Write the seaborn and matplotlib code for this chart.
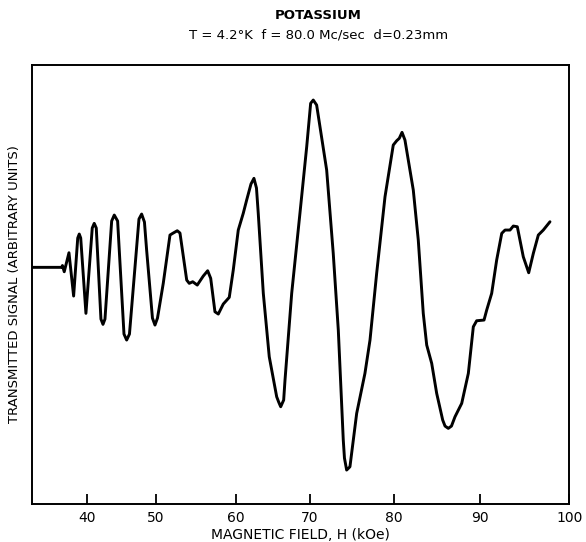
import numpy as np
import pandas as pd
import matplotlib
matplotlib.use("Agg")
import matplotlib.pyplot as plt
import seaborn as sns

# traced curve: magnetic field (kOe) and transmitted signal (arbitrary units)
field_koe = [
    32.0, 36.32, 36.43, 36.69, 37.37, 38.04, 38.63, 38.85, 39.06, 39.81,
    40.73, 41.02, 41.32, 42.00, 42.30, 42.59, 43.57, 43.95, 44.44, 45.37,
    45.76, 46.17, 47.56, 47.95, 48.36, 48.68, 49.53, 49.90, 50.23, 50.95,
    51.79, 52.13, 52.70, 53.04, 53.88, 54.20, 54.63, 55.20, 55.95, 56.50,
    56.88, 57.41, 57.83, 58.45, 59.20, 59.70, 60.35, 61.02, 61.48, 62.06,
    62.46, 62.80, 63.04, 63.72, 64.52, 65.52, 65.79, 66.06, 66.46, 66.64,
    67.54, 68.65, 69.56, 70.08, 70.39, 70.79, 71.98, 72.76, 73.36, 73.95,
    74.09, 74.35, 74.74, 75.54, 76.52, 77.12, 77.91, 78.90, 79.88, 80.28,
    80.58, 80.90, 81.24, 82.21, 82.79, 83.37, 83.77, 84.35, 84.93, 85.63,
    85.90, 86.28, 86.65, 87.06, 87.84, 88.61, 89.19, 89.58, 90.42, 90.72,
    91.28, 91.84, 92.41, 92.78, 93.34, 93.71, 94.16, 94.83, 95.44, 95.96,
    96.52, 97.08, 97.83,
]
signal = [
    0, 0, 1.8, -4.4, 14.6, -28.7, 29.3, 33.3, 29.3, -46,
    39.3, 44, 39.3, -51.7, -57, -51.7, 46.3, 52.3, 46.3, -66.7,
    -72.7, -66.7, 48.3, 53.3, 45.3, 17.3, -50.7, -57.7, -50.7, -16,
    32.3, 34, 36.6, 34.3, -12.7, -16, -14.4, -17.7, -8.7, -3.4,
    -11, -44.4, -46.7, -36.7, -30, -2.7, 37.3, 54, 67.3, 83.3,
    89, 79.3, 54, -26, -89.4, -129.4, -134.7, -139.4, -132.7, -112.7,
    -26, 54, 120.6, 164, 167.3, 162.3, 97.3, 14, -62.7, -172.7,
    -190.7, -202.7, -199.4, -146, -106, -72.7, -6, 70.6, 122.3, 126.6,
    129, 135, 127.3, 77.3, 27.3, -46, -77.7, -96, -126, -152.7,
    -158.7, -161, -158.7, -149.4, -136, -106, -59.4, -53.4, -52.7, -42.7,
    -26, 7.3, 34, 37.3, 37.3, 41.3, 40.6, 10.6, -5.4, 14,
    32.3, 37.3, 45.6,
]
tick_values = [40, 50, 60, 70, 80, 90, 100]

# the hand-drawn axis is not evenly spaced: anchor points of its scale
SCALE_H = [32, 40, 50, 60, 70, 80, 90, 100]
SCALE_PX = [31.7, 87.3, 155.7, 235.7, 310.0, 394.3, 480.3, 569.3]


def make_scale():
    h = np.array(SCALE_H, float)
    p = np.array(SCALE_PX, float)
    lo = (p[1] - p[0]) / (h[1] - h[0])
    hi = (p[-1] - p[-2]) / (h[-1] - h[-2])
    h = np.concatenate([[h[0] - 1e4], h, [h[-1] + 1e4]])
    p = np.concatenate([[p[0] - 1e4 * lo], p, [p[-1] + 1e4 * hi]])

    def fwd(x):
        return np.interp(x, h, p)

    def inv(x):
        return np.interp(x, p, h)

    return fwd, inv


df = pd.DataFrame({"H": field_koe, "signal": signal})

sns.set_style("white")
plt.rcParams["font.family"] = ["DejaVu Sans"]
plt.rcParams["text.color"] = "black"
plt.rcParams["axes.labelcolor"] = "black"
plt.rcParams["xtick.color"] = "black"

fig = plt.figure(figsize=(5.86, 5.42), dpi=100)
ax = fig.add_axes([0.054, 0.070, 0.9175, 0.810])

sns.lineplot(data=df, x="H", y="signal", ax=ax, color="black",
             linewidth=2.1, estimator=None, sort=False)

fwd, inv = make_scale()
ax.set_xscale("function", functions=(fwd, inv))
ax.set_xlim(32, 100)
ax.set_ylim(-236.7, 202.3)
ax.set_xticks(tick_values)
ax.set_xticklabels([str(v) for v in tick_values])
ax.set_yticks([])
ax.tick_params(axis="x", direction="in", length=7, width=1.3,
               labelsize=10, pad=5, bottom=True)
for s in ax.spines.values():
    s.set_linewidth(1.4)
    s.set_color("black")

ax.set_xlabel("MAGNETIC FIELD, H (kOe)", fontsize=10, labelpad=2)
ax.set_ylabel("TRANSMITTED SIGNAL (ARBITRARY UNITS)", fontsize=9.5, labelpad=8)

fig.text(0.543, 0.984, "POTASSIUM", ha="center", va="top",
         fontsize=9.5, fontweight="bold")
fig.text(0.543, 0.947, "T = 4.2°K  f = 80.0 Mc/sec  d=0.23mm", ha="center",
         va="top", fontsize=9.5)

fig.savefig("out.png", dpi=100)
